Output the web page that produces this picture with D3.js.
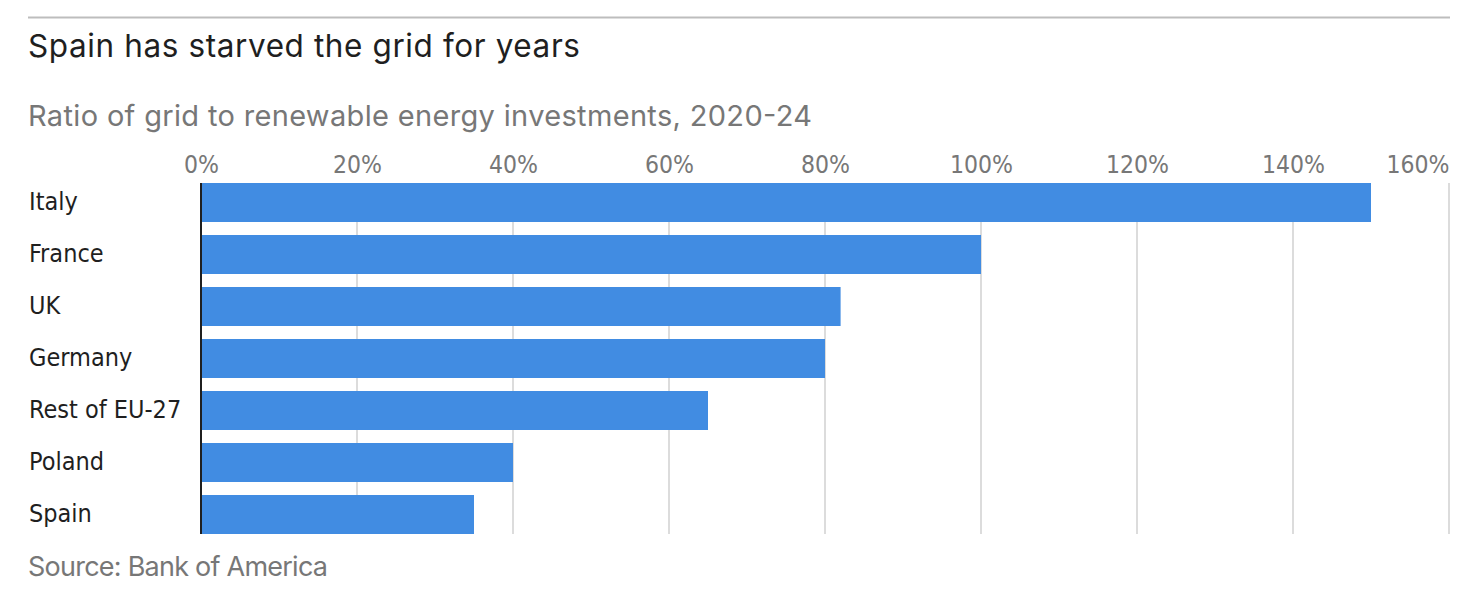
<!doctype html>
<html lang="en">
  <head>
    <meta charset="utf-8">
    <title>Spain has starved the grid for years</title>
    <style>
      body { margin: 0; background: #fff; }
      .tick-label, .country { font-family: "Liberation Sans Narrow", "DejaVu Sans Condensed", sans-serif; }
      .head { font-family: Inter, "Noto Sans", sans-serif; }
    </style>
  </head>
  <body>
    <div class="container"></div>

    <script src="https://cdn.jsdelivr.net/npm/d3@7"></script>
    <script>

    // values (% ratio of grid to renewable investment)
    var countries = ["Italy", "France", "UK", "Germany", "Rest of EU-27", "Poland", "Spain"];
    var ratios = [150, 100, 82, 80, 65, 40, 35];
    var tickValues = [0, 20, 40, 60, 80, 100, 120, 140, 160];

    var data = countries.map(function(c, i){ return {name: c, value: ratios[i]}; });

    var svg = d3.select(".container")
        .append("svg")
        .attr("width", 1462)
        .attr("height", 590);

    var x = d3.scaleLinear()
        .domain([0, 160])
        .range([201, 1449]);

    var y = d3.scaleBand()
        .domain(countries)
        .range([183, 534])
        .paddingInner(0.25)
        .paddingOuter(0);

    // top rule
    svg.append("line")
      .attr("x1", 28).attr("x2", 1450)
      .attr("y1", 17.5).attr("y2", 17.5)
      .attr("stroke", "#bdbdbd")
      .attr("stroke-width", 2);

    svg.append("text")
      .attr("class", "head")
      .attr("x", 28).attr("y", 57)
      .attr("fill", "#1f1f1f")
      .attr("font-size", 31.5)
      .attr("textLength", 552)
      .attr("lengthAdjust", "spacing")
      .text("Spain has starved the grid for years");

    svg.append("text")
      .attr("class", "head")
      .attr("x", 28).attr("y", 126)
      .attr("fill", "#777")
      .attr("font-size", 29)
      .attr("textLength", 784)
      .attr("lengthAdjust", "spacing")
      .text("Ratio of grid to renewable energy investments, 2020-24");

    // gridlines
    svg.selectAll("line.grid")
      .data(tickValues.slice(1))
      .join("line")
      .attr("class", "grid")
      .attr("x1", function(d){ return x(d); })
      .attr("x2", function(d){ return x(d); })
      .attr("y1", y.range()[0])
      .attr("y2", y.range()[1])
      .attr("stroke", "#dcdcdc")
      .attr("stroke-width", 2);

    // top axis labels
    var axis = svg.append("g")
      .attr("transform", "translate(0,173)")
      .call(d3.axisTop(x).tickValues(tickValues).tickSize(0).tickPadding(0)
        .tickFormat(function(d){ return d + "%"; }));
    axis.select(".domain").remove();
    axis.selectAll("text")
      .attr("class", "tick-label")
      .attr("fill", "#777")
      .attr("font-size", 24.5)
      .attr("text-anchor", function(d){ return d === 160 ? "end" : "middle"; });

    // bars
    svg.selectAll("rect.bar")
      .data(data)
      .join("rect")
      .attr("class", "bar")
      .attr("x", x(0))
      .attr("y", function(d){ return y(d.name); })
      .attr("width", function(d){ return x(d.value) - x(0); })
      .attr("height", y.bandwidth())
      .attr("fill", "#418ce2");

    // zero baseline
    svg.append("line")
      .attr("x1", x(0)).attr("x2", x(0))
      .attr("y1", y.range()[0]).attr("y2", y.range()[1])
      .attr("stroke", "#1f1f1f")
      .attr("stroke-width", 2);

    // country labels
    svg.selectAll("text.country")
      .data(data)
      .join("text")
      .attr("class", "country")
      .attr("x", 29)
      .attr("y", function(d){ return y(d.name) + y.bandwidth() / 2 + 7; })
      .attr("fill", "#1f1f1f")
      .attr("font-size", 25)
      .text(function(d){ return d.name; });

    svg.append("text")
      .attr("class", "head")
      .attr("x", 28).attr("y", 576)
      .attr("fill", "#777")
      .attr("font-size", 27)
      .attr("textLength", 300)
      .attr("lengthAdjust", "spacing")
      .text("Source: Bank of America");

    </script>
  </body>
</html>
